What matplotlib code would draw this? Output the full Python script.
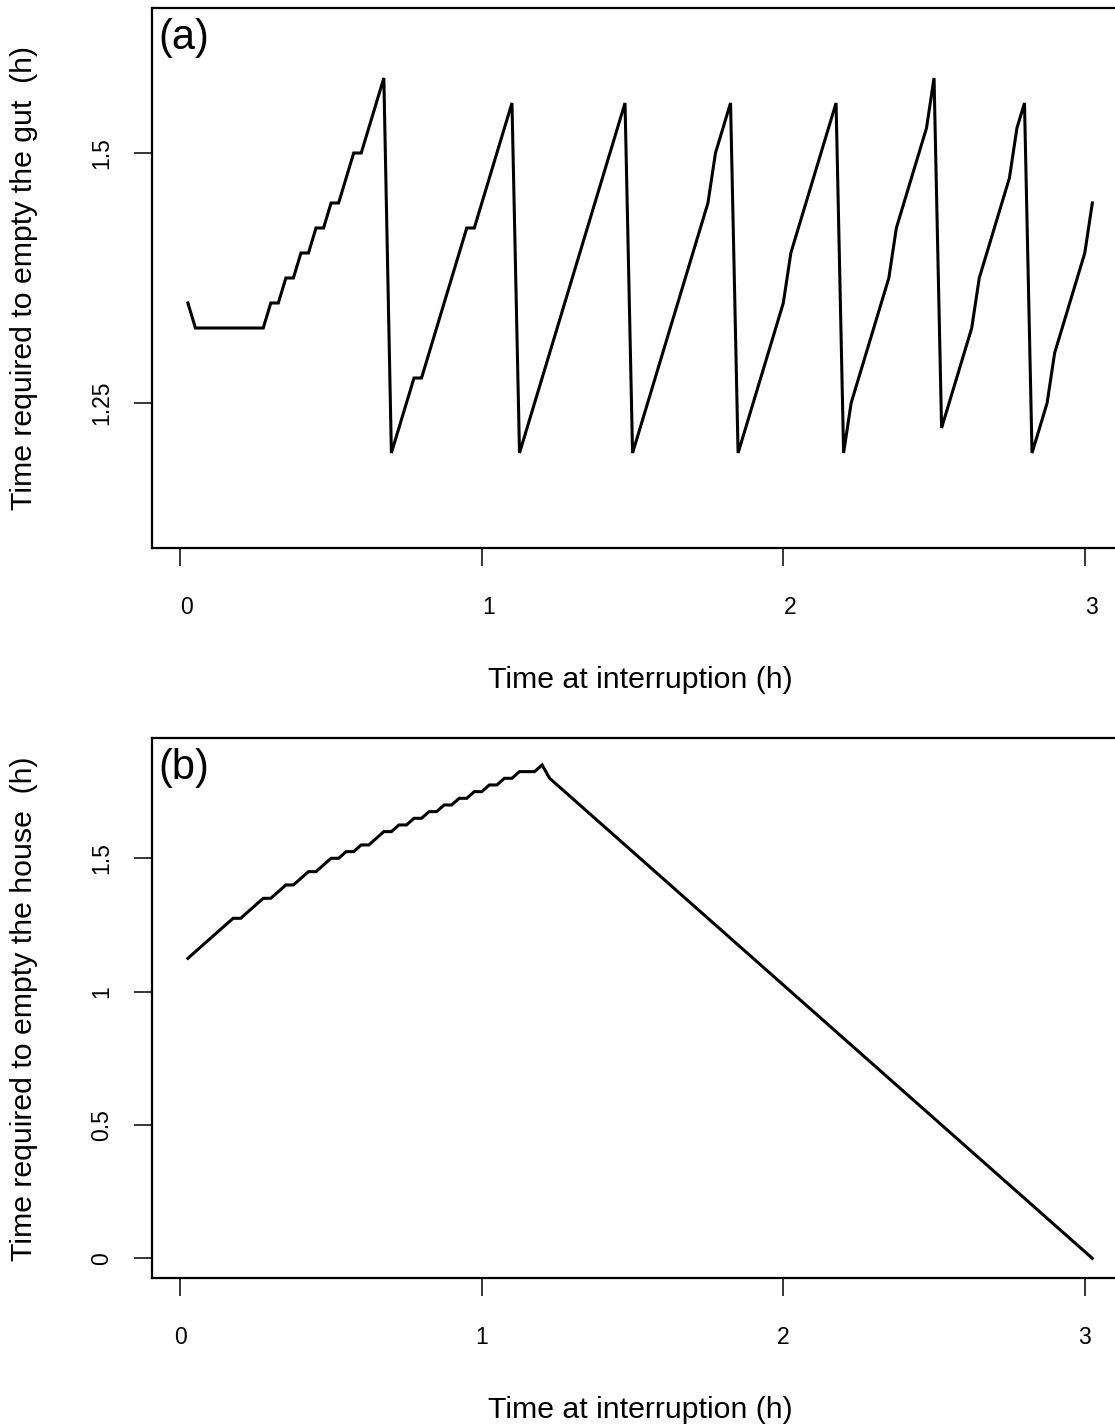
import matplotlib
matplotlib.use("Agg")
import matplotlib.pyplot as plt
import matplotlib.transforms as mtransforms

plt.rcParams["font.family"] = ["Liberation Sans", "DejaVu Sans"]

# panel (a): time needed to empty the gut (h) vs time at interruption (h)
gut_t = [0.025, 0.05, 0.275, 0.3, 0.325, 0.35, 0.375, 0.4, 0.425, 0.45,
         0.475, 0.5, 0.525, 0.575, 0.6, 0.675, 0.7, 0.775, 0.8, 0.95,
         0.975, 1.1, 1.125, 1.475, 1.5, 1.75, 1.775, 1.825, 1.85, 2.0,
         2.025, 2.175, 2.2, 2.225, 2.35, 2.375, 2.475, 2.5, 2.525, 2.625,
         2.65, 2.75, 2.775, 2.8, 2.825, 2.875, 2.9, 3.0, 3.025]
gut_h = [1.35, 1.325, 1.325, 1.35, 1.35, 1.375, 1.375, 1.4, 1.4, 1.425,
         1.425, 1.45, 1.45, 1.5, 1.5, 1.575, 1.2, 1.275, 1.275, 1.425,
         1.425, 1.55, 1.2, 1.55, 1.2, 1.45, 1.5, 1.55, 1.2, 1.35,
         1.4, 1.55, 1.2, 1.25, 1.375, 1.425, 1.525, 1.575, 1.225, 1.325,
         1.375, 1.475, 1.525, 1.55, 1.2, 1.25, 1.3, 1.4, 1.45]

# panel (b): time needed to empty the house (h)
house_t = [0.025, 0.175, 0.2, 0.275, 0.3, 0.35, 0.375, 0.425, 0.45, 0.5,
           0.525, 0.55, 0.575, 0.6, 0.625, 0.675, 0.7, 0.725, 0.75, 0.775,
           0.8, 0.825, 0.85, 0.875, 0.9, 0.925, 0.95, 0.975, 1.0, 1.025,
           1.05, 1.075, 1.1, 1.125, 1.175, 1.2, 1.225, 3.025]
house_h = [1.125, 1.275, 1.275, 1.35, 1.35, 1.4, 1.4, 1.45, 1.45, 1.5,
           1.5, 1.525, 1.525, 1.55, 1.55, 1.6, 1.6, 1.625, 1.625, 1.65,
           1.65, 1.675, 1.675, 1.7, 1.7, 1.725, 1.725, 1.75, 1.75, 1.775,
           1.775, 1.8, 1.8, 1.825, 1.825, 1.85, 1.8, 0.0]

x_ticks = [0, 1, 2, 3]
gut_ticks = [1.25, 1.5]
gut_labels = ["1.25", "1.5"]
house_ticks = [0, 0.5, 1, 1.5]
house_labels = ["0", "0.5", "1", "1.5"]

W, H = 1115, 1425
fig = plt.figure(figsize=(W / 100, H / 100), dpi=100)


def px_box(left, top, right, bottom):
    return [left / W, 1 - bottom / H, (right - left) / W, (bottom - top) / H]


ax_a = fig.add_axes(px_box(151.7, 8, 1128.5, 548))
ax_b = fig.add_axes(px_box(151.7, 738.3, 1128.5, 1278.3))

panels = [
    (ax_a, gut_t, gut_h, (1.105, 1.645), gut_ticks, gut_labels,
     "Time required to empty the gut  (h)", "(a)"),
    (ax_b, house_t, house_h, (-0.075, 1.95), house_ticks, house_labels,
     "Time required to empty the house  (h)", "(b)"),
]

for ax, t, h, ylim, yt, yl, ylab, tag in panels:
    ax.plot(t, h, color="black", lw=2.2, solid_joinstyle="miter")
    ax.set_xlim(-0.095, 3.145)
    ax.set_ylim(*ylim)
    ax.set_xticks(x_ticks)
    ax.set_xticklabels([str(v) for v in x_ticks])
    ax.set_yticks(yt)
    ax.set_yticklabels(yl)
    for s in ax.spines.values():
        s.set_linewidth(1.6)
    ax.tick_params(direction="out", length=13, width=1.1, labelsize=16.5)
    ax.tick_params(axis="x", pad=21.5)
    ax.tick_params(axis="y", pad=15, labelrotation=90)
    plt.setp(ax.get_yticklabels(), va="center")
    ax.set_xlabel("Time at interruption (h)", fontsize=21.8)
    ax.xaxis.set_label_coords(0.5, -0.218)
    ax.set_ylabel(ylab, fontsize=21.8)
    ax.yaxis.set_label_coords(-0.1164, 0.5)
    ax.text(0.007, 0.9815, tag, transform=ax.transAxes, fontsize=30,
            ha="left", va="top")

# panel (a) tick numbers sit a little right of their ticks
shift = mtransforms.ScaledTranslation(0.064, 0, fig.dpi_scale_trans)
for lab in ax_a.get_xticklabels():
    lab.set_transform(lab.get_transform() + shift)

fig.savefig("out.png", dpi=100)
